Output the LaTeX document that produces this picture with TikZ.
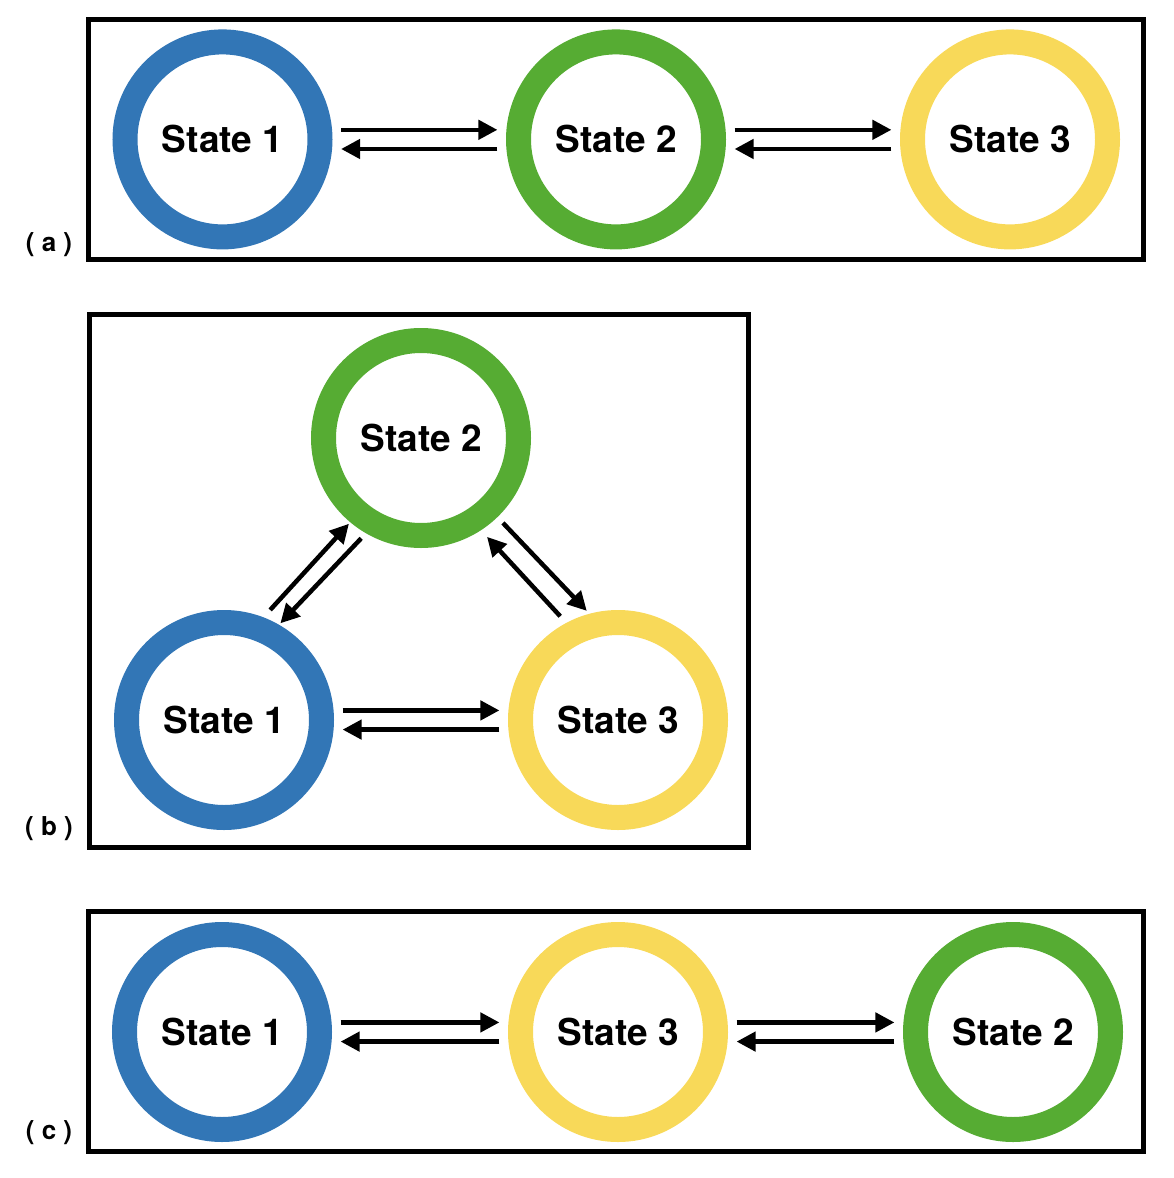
\documentclass[tikz,border=0pt]{standalone}
\usepackage{xcolor}
\usepackage{fontspec}
\setmainfont{TeX Gyre Heros}
\usepackage{tikz}
\usetikzlibrary{calc}
\usetikzlibrary{arrows.meta}
\definecolor{stblue}{RGB}{50,118,182}
\definecolor{stgreen}{RGB}{86,172,51}
\definecolor{styellow}{RGB}{248,217,89}
\tikzstyle{state} = [circle,line width=25pt,outer sep=12.5pt,minimum size=195pt,
	inner sep=0pt,font=\fontsize{37}{40}\selectfont\bfseries]
\tikzstyle{trans} = [line width=4.5pt,-{Triangle[length=19pt,width=19pt]}]
\tikzstyle{panel} = [line width=5pt]
\tikzstyle{tag} = [font=\fontsize{26}{30}\selectfont\bfseries]

\begin{document}
\begin{tikzpicture}[x=1pt,y=-1pt]
   \useasboundingbox (0,0) rectangle (1174,1178);

   % (a) linear chain 1-2-3
   \draw[panel] (88.7,19.8) rectangle (1143.3,259.3);
   \node[tag] (taga) at (49,245) {( a )};
   \node[state,draw=stblue]   (a1) at (222.5,139.4) {State 1};
   \node[state,draw=stgreen]  (a2) at (616,139.4)   {State 2};
   \node[state,draw=styellow] (a3) at (1010,139.4)  {State 3};
   \path[trans,shorten <=9pt,shorten >=9pt] (a1.5) edge (a2.175)
      (a2.185) edge (a1.355)
      (a2.5) edge (a3.175)
      (a3.185) edge (a2.355);

   % (b) triangle
   \draw[panel] (89.3,314.8) rectangle (748.5,847.5);
   \node[tag] (tagb) at (49,829) {( b )};
   \node[state,draw=stgreen]  (b2) at (421,438) {State 2};
   \node[state,draw=stblue]   (b1) at (224,720) {State 1};
   \node[state,draw=styellow] (b3) at (618,720) {State 3};
   \path[trans,shorten <=9pt,shorten >=9pt] (b1.5) edge (b3.175)
      (b3.185) edge (b1.355);
   \path[trans] (b1.69) edge[shorten <=10pt,shorten >=2pt] (b2.230)
      (b2.240) edge[shorten <=7pt,shorten >=2pt] (b1.60)
      (b3.118) edge[shorten <=9pt,shorten >=9pt] (b2.303)
      (b2.314) edge[shorten <=8pt,shorten >=4pt] (b3.105);

   % (c) linear chain 1-3-2
   \draw[panel] (88.5,911.8) rectangle (1143.3,1151.2);
   \node[tag] (tagc) at (49,1133) {( c )};
   \node[state,draw=stblue]   (c1) at (222,1032)  {State 1};
   \node[state,draw=styellow] (c3) at (618,1032)  {State 3};
   \node[state,draw=stgreen]  (c2) at (1013,1032) {State 2};
   \path[trans,shorten <=9pt,shorten >=9pt] (c1.5) edge (c3.175)
      (c3.185) edge (c1.355)
      (c3.5) edge (c2.175)
      (c2.185) edge (c3.355);
\end{tikzpicture}
\end{document}
